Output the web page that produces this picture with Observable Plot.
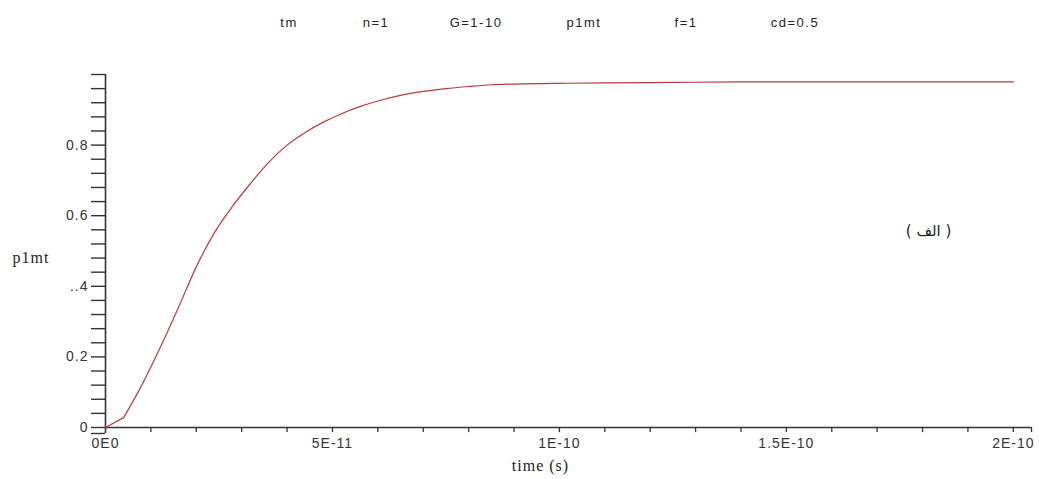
<!DOCTYPE html>
<html>
<head>
<meta charset="utf-8">
<script src="https://cdn.jsdelivr.net/npm/d3@7"></script>
<script src="https://cdn.jsdelivr.net/npm/@observablehq/plot@0.6"></script>
<style>
  html, body { margin: 0; padding: 0; background: #fff; }
  #wrap { width: 1039px; height: 479px; position: relative; overflow: hidden; }
  #header { position: relative; height: 46px; font-family: "Liberation Sans", Arial, sans-serif; font-size: 13px; color: #222; letter-spacing: 1.5px; }
  #header span { position: absolute; top: 15px; transform: translateX(-50%); white-space: nowrap; }
</style>
</head>
<body>
<div id="wrap">
  <div id="header"></div>
  <div id="chart"></div>
</div>
<script>
// ---- data ----
const headerItems = ["tm", "n=1", "G=1-10", "p1mt", "f=1", "cd=0.5"];
const timeValues = [0, 0.4e-11, 0.8e-11, 1.2e-11, 1.6e-11, 2.0e-11, 2.4e-11, 2.8e-11, 3.2e-11, 3.6e-11,
  4.0e-11, 4.4e-11, 4.8e-11, 5.2e-11, 5.6e-11, 6.0e-11, 6.5e-11, 7.0e-11, 7.5e-11, 8.0e-11, 8.5e-11,
  9.0e-11, 1.0e-10, 1.1e-10, 1.2e-10, 1.3e-10, 1.4e-10, 1.6e-10, 1.8e-10, 2.0e-10];
const p1mtValues = [0, 0.028, 0.12, 0.225, 0.338, 0.455, 0.552, 0.627, 0.692, 0.752,
  0.8, 0.836, 0.865, 0.889, 0.909, 0.925, 0.941, 0.952, 0.96, 0.966, 0.971,
  0.973, 0.975, 0.976, 0.977, 0.978, 0.979, 0.979, 0.979, 0.979];
const yTickValues = [0, 0.2, 0.4, 0.6, 0.8];
const yTickLabels = ["0", "0.2", "..4", "0.6", "0.8"];
const yMinorTicks = [-0.017, 0, 0.04, 0.08, 0.12, 0.16, 0.2, 0.24, 0.28, 0.32, 0.36, 0.4, 0.44, 0.48,
  0.52, 0.56, 0.6, 0.64, 0.68, 0.72, 0.76, 0.8, 0.84, 0.88, 0.92, 0.96, 1.0];
const xTickValues = [0, 5e-11, 1e-10, 1.5e-10, 2e-10];
const xTickLabels = ["0E0", "5E-11", "1E-10", "1.5E-10", "2E-10"];
const xMinorTicks = [1e-11, 2e-11, 3e-11, 4e-11, 5e-11, 6e-11, 7e-11, 8e-11, 9e-11, 10e-11,
  11e-11, 12e-11, 13e-11, 14e-11, 15e-11, 16e-11, 17e-11, 18e-11, 19e-11, 20e-11, 2.04e-10];
const xDomain = [0, 2.04e-10];
const yDomain = [-0.017, 1.0];
const yLabel = "p1mt";
const xLabel = "time (s)";
const panelLabel = "( الف )";

const data = timeValues.map((t, i) => ({t, v: p1mtValues[i]}));
const dataStart = data.slice(0, 2);
const dataRest = data.slice(1);

// header
const headerCenters = [289, 376, 476, 584, 686, 795];
const header = document.getElementById("header");
headerItems.forEach((s, i) => {
  const sp = document.createElement("span");
  sp.textContent = s;
  sp.style.left = headerCenters[i] + "px";
  header.appendChild(sp);
});

const axisColor = "#333";
const lineColor = "#b43c3c";
const chart = Plot.plot({
  width: 1039,
  height: 433,
  marginLeft: 105,
  marginRight: 8,
  marginTop: 28,
  marginBottom: 46,
  style: "font-family: 'Liberation Sans', Arial, sans-serif; font-size: 14px; letter-spacing: 1px; color: #222; background: white; overflow: visible;",
  x: {domain: xDomain, axis: null},
  y: {domain: yDomain, axis: null},
  marks: [
    Plot.ruleY([0], {stroke: axisColor, strokeWidth: 1.5}),
    Plot.ruleX([0], {stroke: axisColor, strokeWidth: 1.6}),
    Plot.axisY(yMinorTicks, {tickSize: 14, tickFormat: () => "", stroke: axisColor, strokeWidth: 1.4, label: null}),
    Plot.axisY(yTickValues, {tickSize: 0, tickPadding: 17, tickFormat: d => yTickLabels[yTickValues.indexOf(d)], fill: "#333", label: null}),
    Plot.ruleX(xMinorTicks, {x: d => d, y1: 0, y2: -0.0145, stroke: axisColor, strokeWidth: 1.3}),
    Plot.axisX(xTickValues, {tickSize: 0, tickPadding: 5, tickFormat: d => xTickLabels[xTickValues.indexOf(d)], fill: "#333", label: null}),
    Plot.line(dataStart, {x: "t", y: "v", stroke: lineColor, strokeWidth: 1.2}),
    Plot.line(dataRest, {x: "t", y: "v", stroke: lineColor, strokeWidth: 1.2, curve: "monotone-x"}),
    Plot.text([yLabel], {frameAnchor: "left", textAnchor: "start", dx: -93, dy: 4, fontFamily: "'Liberation Serif', serif", fontSize: 16, fill: "#222"}),
    Plot.text([xLabel], {frameAnchor: "bottom", textAnchor: "middle", dx: -28, dy: 37, fontFamily: "'Liberation Serif', serif", fontSize: 16, fill: "#222"}),
    Plot.text([panelLabel], {frameAnchor: "right", textAnchor: "middle", dx: -103, dy: -23, fontFamily: "'DejaVu Sans', sans-serif", fontSize: 15, fill: "#222"})
  ]
});
document.getElementById("chart").appendChild(chart);
</script>
</body>
</html>
